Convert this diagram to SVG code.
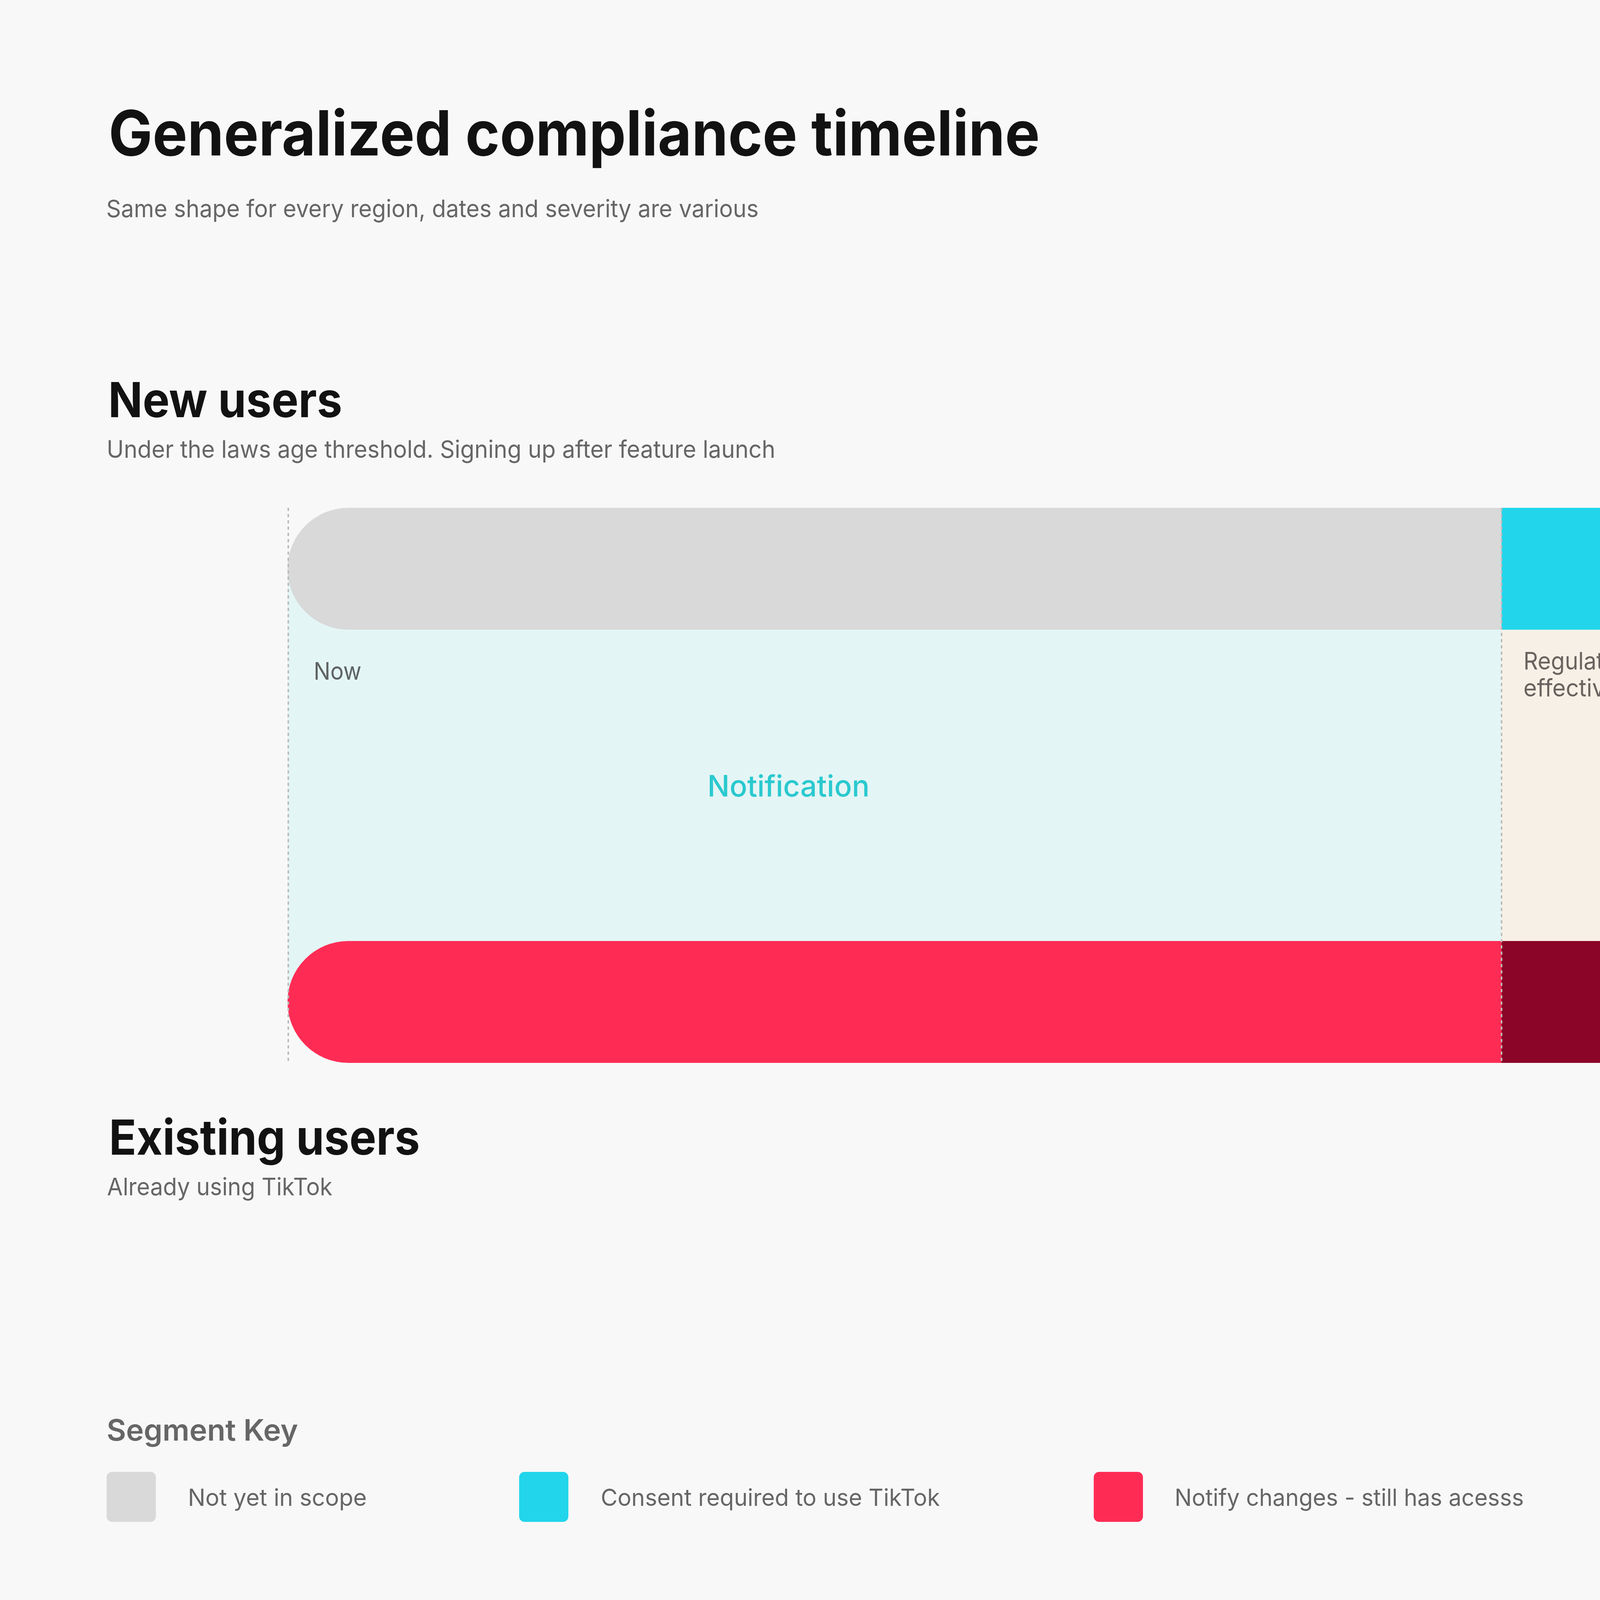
<svg xmlns="http://www.w3.org/2000/svg" width="7680" height="4320" viewBox="0 0 7680 4320">
  <defs>
    <style>
      .t { font-family: Inter, "Noto Sans", "Liberation Sans", sans-serif; }
      .h1 { font-size: 160px; font-weight: 700; fill: #121212; }
      .h2 { font-size: 124px; font-weight: 700; fill: #121212; }
      .sub { font-size: 62px; font-weight: 400; fill: #666666; }
      .lbl { font-size: 62px; font-weight: 400; fill: #5E6262; }
      .lblb { font-size: 62px; font-weight: 400; fill: #68635F; }
      .phase { font-size: 76px; font-weight: 500; }
      .key { font-size: 76px; font-weight: 600; fill: #666666; }
      .leg { font-size: 60px; font-weight: 400; fill: #666666; }
      .dash { stroke: #BBBBBB; stroke-width: 4; stroke-dasharray: 8 8; fill: none; }
    </style>
  </defs>

  <rect x="0" y="0" width="7680" height="4320" fill="#F8F8F8"/>

  <g id="header">
    <text class="t h1" x="278" y="398" textLength="2384" lengthAdjust="spacingAndGlyphs">Generalized compliance timeline</text>
    <text class="t sub" x="272" y="556" textLength="1670" lengthAdjust="spacingAndGlyphs">Same shape for every region, dates and severity are various</text>
  </g>

  <g id="new-users-heading">
    <text class="t h2" x="277" y="1068" textLength="599" lengthAdjust="spacingAndGlyphs">New users</text>
    <text class="t sub" x="273" y="1172" textLength="1712" lengthAdjust="spacingAndGlyphs">Under the laws age threshold. Signing up after feature launch</text>
  </g>

  <g id="phase-notification">
    <rect x="736" y="1456" width="3108" height="1109" fill="#E4F5F5"/>
  </g>
  <g id="phase-blocking">
    <rect x="3844" y="1456" width="3340" height="1109" fill="#F7F0E6"/>
  </g>

  <g id="new-not-in-scope">
    <path d="M3844 1300 H892 A156 156 0 0 0 892 1612 H3844 Z" fill="#D9D9D9"/>
  </g>
  <g id="new-consent-required">
    <path d="M3844 1300 H7028 A156 156 0 0 1 7028 1612 H3844 Z" fill="#22D5EB"/>
  </g>
  <g id="existing-notify">
    <path d="M3844 2409 H892 A156 156 0 0 0 892 2721 H3844 Z" fill="#FE2C55"/>
  </g>
  <g id="existing-consent-not-due">
    <rect x="3844" y="2409" width="1672" height="312" fill="#8A0527"/>
  </g>
  <g id="existing-blocked">
    <path d="M5516 2409 H7028 A156 156 0 0 1 7028 2721 H5516 Z" fill="#64001D"/>
  </g>

  <g id="connectors">
    <line class="dash" x1="738" y1="1300" x2="738" y2="2721"/>
    <line class="dash" x1="3844" y1="1300" x2="3844" y2="2721"/>
    <line class="dash" x1="5516" y1="1300" x2="5516" y2="2721"/>
  </g>

  <g id="milestone-now">
    <text class="t lbl" x="803" y="1740" textLength="122" lengthAdjust="spacingAndGlyphs">Now</text>
  </g>
  <g id="milestone-regulation">
    <text class="t lblb" x="3900" y="1714" textLength="289" lengthAdjust="spacingAndGlyphs">Regulation</text>
    <text class="t lblb" x="3900" y="1783" textLength="381" lengthAdjust="spacingAndGlyphs">effective date</text>
  </g>
  <g id="milestone-grace">
    <text class="t lblb" x="5573" y="1724" textLength="498" lengthAdjust="spacingAndGlyphs">Grace period ends</text>
    <text class="t lblb" x="5573" y="1795" textLength="271" lengthAdjust="spacingAndGlyphs">(Optional)</text>
  </g>
  <g id="label-notification">
    <text class="t phase" x="1811" y="2039" fill="#2AC9CF" textLength="415" lengthAdjust="spacingAndGlyphs">Notification</text>
  </g>
  <g id="label-blocking">
    <text class="t phase" x="5004" y="2039" fill="#D08A22" textLength="308" lengthAdjust="spacingAndGlyphs">Blocking</text>
  </g>

  <g id="existing-users-heading">
    <text class="t h2" x="279" y="2956" textLength="796" lengthAdjust="spacingAndGlyphs">Existing users</text>
    <text class="t sub" x="274" y="3060" textLength="577" lengthAdjust="spacingAndGlyphs">Already using TikTok</text>
  </g>

  <g id="segment-key">
    <text class="t key" x="273" y="3688" textLength="490" lengthAdjust="spacingAndGlyphs">Segment Key</text>
  </g>
  <g id="key-not-in-scope">
    <rect x="273" y="3768" width="126" height="128" rx="14" fill="#D9D9D9"/>
    <text class="t leg" x="481" y="3855" textLength="458" lengthAdjust="spacingAndGlyphs">Not yet in scope</text>
  </g>
  <g id="key-consent-required">
    <rect x="1329" y="3768" width="126" height="128" rx="14" fill="#22D5EB"/>
    <text class="t leg" x="1538" y="3855" textLength="868" lengthAdjust="spacingAndGlyphs">Consent required to use TikTok</text>
  </g>
  <g id="key-notify">
    <rect x="2800" y="3768" width="126" height="128" rx="14" fill="#FE2C55"/>
    <text class="t leg" x="3007" y="3855" textLength="894" lengthAdjust="spacingAndGlyphs">Notify changes - still has acesss</text>
  </g>
  <g id="key-consent-not-due">
    <rect x="4292" y="3768" width="126" height="128" rx="14" fill="#8A0527"/>
    <text class="t leg" x="4499" y="3855" textLength="932" lengthAdjust="spacingAndGlyphs">Consent are required but not due</text>
  </g>
  <g id="key-blocked">
    <rect x="5821" y="3768" width="126" height="128" rx="14" fill="#64001D"/>
    <text class="t leg" x="6025" y="3855" textLength="706" lengthAdjust="spacingAndGlyphs">Blocked without consent</text>
  </g>
</svg>
